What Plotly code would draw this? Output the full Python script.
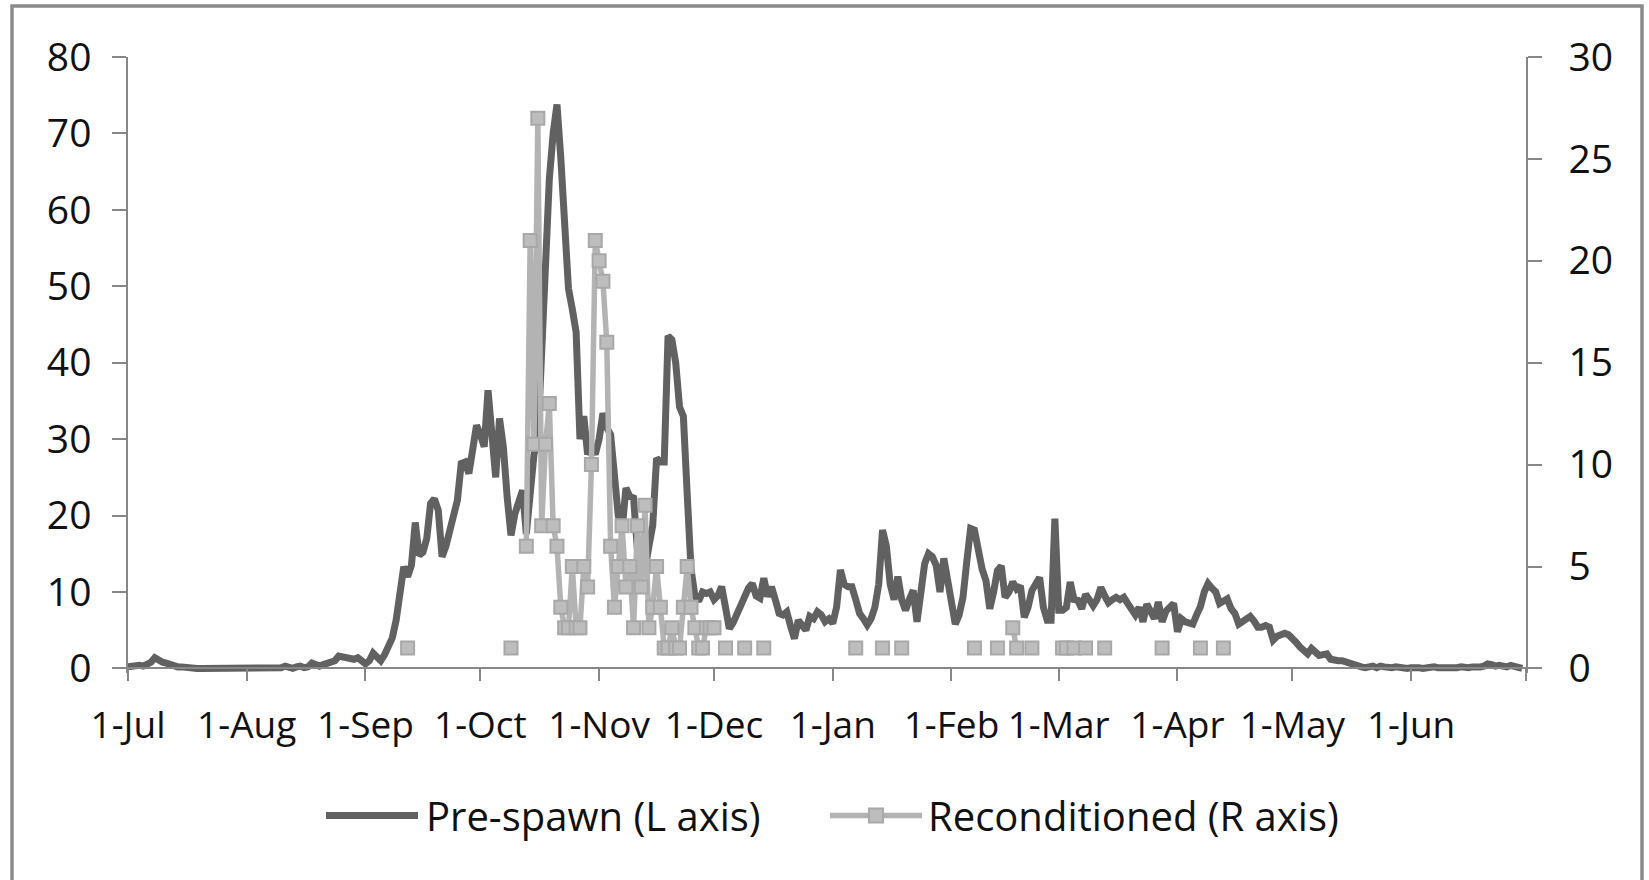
import pandas as pd
import plotly.graph_objects as go

# Daily pre-spawn counts (left axis), one list per month, Jul 2010 - Jun 2011
prespawn_jul = [0.2, 0.3, 0.5, 0.4, 0.3, 0.5, 0.8, 1.4, 1.0, 0.8, 0.7, 0.5, 0.3, 0.2, 0.2, 0.1,
                0.2, 0.1, 0.0, 0.0, 0.0, 0.0, 0.0, 0.0, 0.0, 0.0, 0.0, 0.0, 0.0, 0.2, 0.0]
prespawn_aug = [0.0, 0.0, 0.1, 0.0, 0.0, 0.1, 0.2, 0.1, 0.0, 0.1, 0.3, 0.1, 0.0, 0.2, 0.3, 0.1,
                0.2, 0.7, 0.4, 0.3, 0.5, 0.6, 0.8, 1.0, 1.6, 1.5, 1.2, 1.3, 1.2, 1.4, 1.0]
prespawn_sep = [0.6, 1.0, 2.0, 1.5, 1.0, 1.8, 2.8, 4.0, 6.3, 9.5, 13.3, 12.0, 13.5, 19.1, 14.8,
                15.2, 17.0, 21.6, 22.2, 20.7, 14.6, 16.0, 17.9, 19.6, 22.0, 26.8, 27.0, 25.5, 29.0, 31.8]
prespawn_oct = [30.6, 29.0, 36.4, 30.0, 25.0, 32.7, 29.0, 22.4, 17.4, 20.2, 21.5, 23.3, 17.6, 23.0,
                28.0, 30.0, 42.0, 55.0, 64.0, 70.0, 73.8, 66.8, 58.0, 49.7, 47.0, 44.0, 30.0, 33.0,
                28.0, 29.0, 28.0]
prespawn_nov = [30.0, 33.4, 31.5, 30.6, 25.4, 20.0, 18.1, 23.6, 22.5, 22.3, 15.5, 14.0, 13.0, 16.0,
                18.7, 27.5, 27.0, 27.0, 43.5, 43.0, 40.0, 34.2, 33.0, 22.8, 13.0, 9.5, 8.8, 10.0, 9.8, 10.0]
prespawn_dec = [9.0, 9.5, 10.7, 8.0, 5.2, 6.0, 7.2, 8.5, 9.8, 10.5, 11.1, 9.5, 9.2, 11.8, 9.4, 10.7,
                9.0, 7.2, 7.0, 7.4, 5.5, 3.9, 6.3, 5.5, 5.0, 6.8, 6.5, 7.4, 7.0, 6.1, 6.5]
prespawn_jan = [5.9, 8.0, 12.9, 11.0, 10.7, 10.7, 9.0, 7.2, 6.5, 5.7, 6.5, 8.0, 11.0, 18.1, 16.0, 11.0,
                9.0, 12.0, 9.0, 7.6, 9.0, 10.2, 6.1, 9.8, 13.7, 15.0, 14.6, 13.5, 10.0, 14.4, 11.1]
prespawn_feb = [8.0, 5.8, 7.0, 9.3, 14.0, 18.3, 18.1, 15.4, 13.0, 11.5, 7.8, 10.0, 12.8, 13.4, 9.3,
                10.0, 11.3, 10.4, 10.8, 6.7, 8.0, 10.2, 11.0, 11.9, 8.0, 6.3, 6.3, 19.6]
prespawn_mar = [7.6, 7.6, 8.0, 11.3, 9.0, 8.9, 7.8, 9.7, 9.0, 8.2, 9.0, 10.6, 9.5, 8.6, 9.0, 9.3,
                9.0, 9.3, 8.5, 7.8, 7.0, 8.0, 6.1, 8.4, 7.6, 6.5, 8.7, 6.1, 7.5, 8.1, 8.5]
prespawn_apr = [4.8, 6.5, 6.1, 6.0, 5.8, 7.0, 8.1, 10.0, 11.1, 10.5, 10.0, 8.5, 8.8, 9.1, 7.8, 7.2,
                5.8, 6.2, 6.5, 6.8, 6.2, 5.4, 5.4, 5.6, 5.4, 3.7, 4.2, 4.3, 4.6, 4.4]
prespawn_may = [4.0, 3.4, 2.8, 2.3, 1.9, 2.6, 2.2, 1.7, 1.8, 1.9, 1.2, 1.0, 1.0, 1.0, 0.8, 0.6,
                0.5, 0.3, 0.2, 0.1, 0.2, 0.3, 0.1, 0.3, 0.2, 0.1, 0.1, 0.2, 0.1, 0.1, 0.0]
prespawn_jun = [0.1, 0.2, 0.1, 0.0, 0.1, 0.1, 0.2, 0.1, 0.0, 0.1, 0.1, 0.0, 0.1, 0.2, 0.1, 0.1,
                0.2, 0.1, 0.2, 0.3, 0.6, 0.5, 0.3, 0.4, 0.3, 0.2, 0.4, 0.3, 0.2, 0.0]

# Reconditioned counts (right axis): a daily run in autumn plus scattered single days
recon_run_start = "2010-10-13"
recon_run_counts = [6, 21, 11, 27, 7, 11, 13, 7, 6, 3, 2, 2, 5, 2, 2, 5, 4, 10, 21,
                    20, 19, 16, 6, 3, 5, 7, 4, 5, 2, 7, 4, 8, 2, 3, 5, 3, 1, 1, 2, 1,
                    1, 3, 5, 3, 2, 1, 1, 2, 2, 2]
recon_single_dates = ["2010-09-12", "2010-10-09", "2010-12-04", "2010-12-09", "2010-12-14",
                      "2011-01-07", "2011-01-14", "2011-01-19", "2011-02-07", "2011-02-13",
                      "2011-02-17", "2011-02-18", "2011-02-22", "2011-03-02", "2011-03-03",
                      "2011-03-05", "2011-03-08", "2011-03-13", "2011-03-28", "2011-04-07",
                      "2011-04-13"]
recon_single_counts = [1, 1, 1, 1, 1, 1, 1, 1, 1, 1, 2, 1, 1, 1, 1, 1, 1, 1, 1, 1, 1]

month_ticks = ["2010-07-01", "2010-08-01", "2010-09-01", "2010-10-01", "2010-11-01",
               "2010-12-01", "2011-01-01", "2011-02-01", "2011-03-01", "2011-04-01",
               "2011-05-01", "2011-06-01", "2011-07-01"]
month_labels = ["1-Jul", "1-Aug", "1-Sep", "1-Oct", "1-Nov", "1-Dec", "1-Jan", "1-Feb",
                "1-Mar", "1-Apr", "1-May", "1-Jun", ""]

# ---- assemble daily series ----
days = pd.date_range("2010-07-01", "2011-06-30", freq="D")
prespawn = (prespawn_jul + prespawn_aug + prespawn_sep + prespawn_oct + prespawn_nov +
            prespawn_dec + prespawn_jan + prespawn_feb + prespawn_mar + prespawn_apr +
            prespawn_may + prespawn_jun)

run_days = pd.date_range(recon_run_start, periods=len(recon_run_counts), freq="D")
recon = pd.concat([
    pd.Series(recon_run_counts, index=run_days, dtype=float),
    pd.Series(recon_single_counts, index=pd.to_datetime(recon_single_dates), dtype=float),
]).sort_index().reindex(days)
recon_y = [None if pd.isna(v) else v for v in recon.values]

DARK = "#616161"
LIGHT = "#b3b3b3"
MARK_FILL = "#bdbdbd"
MARK_EDGE = "#a8a8a8"
AXIS = "#878787"
FONT = "Open Sans"
TEXT = "#111111"

# A small slack below zero keeps the thick zero-level line from being clipped by the plot area;
# the x axis is pinned at the zero level.
L_MAX, R_MAX = 80, 30
SLACK = 0.0075
L_MIN, R_MIN = -L_MAX * SLACK, -R_MAX * SLACK
ZERO_POS = -L_MIN / (L_MAX - L_MIN)

fig = go.Figure()
fig.add_trace(go.Scatter(
    x=days, y=prespawn, mode="lines", name="Pre-spawn (L axis)",
    line=dict(color=DARK, width=7), yaxis="y",
))
fig.add_trace(go.Scatter(
    x=days, y=recon_y, mode="lines+markers", name="Reconditioned (R axis)",
    line=dict(color=LIGHT, width=5.5), connectgaps=False,
    marker=dict(symbol="square", size=13, color=MARK_FILL, line=dict(color=MARK_EDGE, width=2)),
    yaxis="y2",
))

axis_common = dict(showgrid=False, zeroline=False, showline=True, linecolor=AXIS, linewidth=1.5,
                   ticks="outside", tickcolor=AXIS, tickwidth=1.5)

TOP, ZERO_PX = 57, 668
PLOT_H = (ZERO_PX - TOP) * (L_MAX - L_MIN) / L_MAX
BOTTOM_PX = TOP + PLOT_H

fig.update_layout(
    width=1649, height=880,
    margin=dict(l=128, r=123, t=TOP, b=880 - BOTTOM_PX),
    paper_bgcolor="white", plot_bgcolor="white",
    showlegend=False,
    font=dict(family=FONT, size=36, color=TEXT),
    xaxis=dict(type="date", range=["2010-07-01", "2011-07-01"],
               tickmode="array", tickvals=month_ticks, ticktext=month_labels,
               anchor="free", position=ZERO_POS,
               ticklen=12, ticklabelstandoff=12,
               tickfont=dict(family=FONT, size=37, color=TEXT), **axis_common),
    yaxis=dict(range=[L_MIN, L_MAX], tickmode="array", tickvals=list(range(0, 81, 10)),
               ticklen=14, ticklabelstandoff=13,
               tickfont=dict(family=FONT, size=39, color=TEXT), **axis_common),
    yaxis2=dict(range=[R_MIN, R_MAX], tickmode="array", tickvals=list(range(0, 31, 5)),
                overlaying="y", side="right",
                ticklen=14, ticklabelstandoff=19,
                tickfont=dict(family=FONT, size=39, color=TEXT), **axis_common),
)

# ---- chart frame and legend (paper coordinates relative to the plot area) ----
PW = 1649 - 128 - 123


def px_x(px):
    return (px - 128) / PW


def px_y(py):
    return (BOTTOM_PX - py) / PLOT_H


fig.add_shape(type="rect", xref="paper", yref="paper",
              x0=px_x(12), x1=px_x(1642), y0=px_y(940), y1=px_y(6),
              line=dict(color="#8a8a8a", width=3.5), fillcolor="rgba(0,0,0,0)", layer="above")

leg_y = px_y(815)
fig.add_shape(type="line", xref="paper", yref="paper", x0=px_x(326), x1=px_x(418), y0=leg_y, y1=leg_y,
              line=dict(color=DARK, width=7))
fig.add_annotation(xref="paper", yref="paper", x=px_x(424), y=leg_y, xanchor="left", yanchor="middle",
                   text="Pre-spawn (L axis)", showarrow=False, font=dict(family=FONT, size=40, color=TEXT))
fig.add_shape(type="line", xref="paper", yref="paper", x0=px_x(830), x1=px_x(922), y0=leg_y, y1=leg_y,
              line=dict(color=LIGHT, width=5.5))
fig.add_shape(type="rect", xref="paper", yref="paper", x0=px_x(869), x1=px_x(883),
              y0=leg_y - 7 / PLOT_H, y1=leg_y + 7 / PLOT_H,
              line=dict(color=MARK_EDGE, width=2), fillcolor=MARK_FILL)
fig.add_annotation(xref="paper", yref="paper", x=px_x(926), y=leg_y, xanchor="left", yanchor="middle",
                   text="Reconditioned (R axis)", showarrow=False, font=dict(family=FONT, size=40, color=TEXT))

fig.write_html("out.html")
